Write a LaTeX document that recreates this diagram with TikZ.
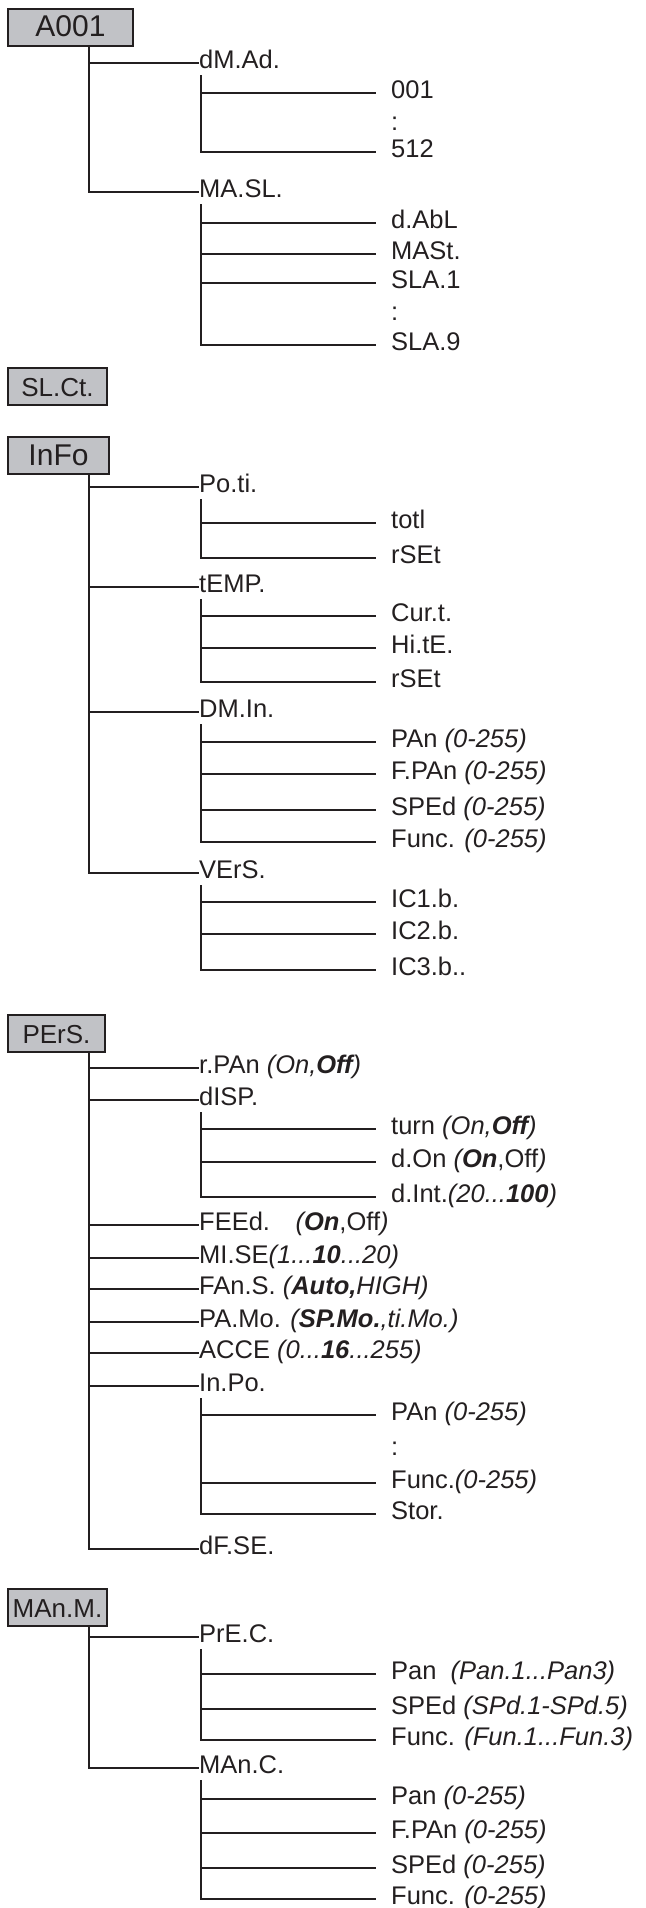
\documentclass[tikz,border=0pt]{standalone}
\usepackage{fontspec}
\setmainfont{Liberation Sans}
\definecolor{ink}{RGB}{35,31,32}
\definecolor{menugray}{RGB}{193,194,198}
\newcommand{\boxfont}{\fontsize{26}{30}\selectfont}
\newcommand{\bigboxfont}{\fontsize{30}{34}\selectfont}
\newcommand{\itemfont}{\fontsize{25.5}{30}\selectfont}

\begin{document}
\begin{tikzpicture}[x=1pt, y=-1pt,
    menubox/.style={draw=ink, fill=menugray, line width=2pt, anchor=north west,
        minimum height=37pt, inner sep=0pt, text height=19pt, text depth=0pt,
        font=\boxfont, text=ink},
    sublabel/.style={anchor=west, inner xsep=0pt, inner ysep=6.5pt,
        text height=11pt, text depth=0pt, font=\itemfont, text=ink},
    leaflabel/.style={sublabel},
    menuline/.style={draw=ink, line width=2pt}]

        % Define the columns of the menu tree
        \def\boxx{7}     % left edge of the menu boxes
        \def\trunk{82}   % trunk offset from the box edge
        \def\subx{199}   % first level labels
        \def\leafx{391}  % second level labels
        \def\gap{15}     % space between a leaf line and its label

        \useasboundingbox (0,0) rectangle (645,1908);

        % A001
        \node[menubox, minimum width=125pt, font=\bigboxfont] (a001) at (\boxx,8) {A001};
        \node[sublabel] (dmad) at (\subx,63) {dM.Ad.};
        \node[leaflabel] (dmad1) at (\leafx,93) {001};
        \node[leaflabel] (dmad2) at (\leafx,125) {:};
        \node[leaflabel] (dmad3) at (\leafx,152) {512};
        \node[sublabel] (masl) at (\subx,192) {MA.SL.};
        \node[leaflabel] (masl1) at (\leafx,223) {d.AbL};
        \node[leaflabel] (masl2) at (\leafx,254) {MASt.};
        \node[leaflabel] (masl3) at (\leafx,283) {SLA.1};
        \node[leaflabel] (masl4) at (\leafx,315) {:};
        \node[leaflabel] (masl5) at (\leafx,345) {SLA.9};

        \foreach \c in {dmad,masl}
            \draw[menuline] ([xshift=\trunk pt]a001.south west) |- (\c.west);
        \foreach \c in {dmad1,dmad3}
            \draw[menuline, shorten >=\gap pt] ([xshift=2pt]dmad.south west) |- (\c.west);
        \foreach \c in {masl1,masl2,masl3,masl5}
            \draw[menuline, shorten >=\gap pt] ([xshift=2pt]masl.south west) |- (\c.west);

        % SL.Ct.
        \node[menubox, minimum width=99pt] (slct) at (\boxx,367) {SL.Ct.};

        % InFo
        \node[menubox, minimum width=101pt, font=\bigboxfont] (info) at (\boxx,436) {InFo};
        \node[sublabel] (poti) at (\subx,487) {Po.ti.};
        \node[leaflabel] (poti1) at (\leafx,523) {totl};
        \node[leaflabel] (poti2) at (\leafx,558) {rSEt};
        \node[sublabel] (temp) at (\subx,587) {tEMP.};
        \node[leaflabel] (temp1) at (\leafx,616) {Cur.t.};
        \node[leaflabel] (temp2) at (\leafx,648) {Hi.tE.};
        \node[leaflabel] (temp3) at (\leafx,682) {rSEt};
        \node[sublabel] (dmin) at (\subx,712) {DM.In.};
        \node[leaflabel] (dmin1) at (\leafx,742) {PAn \textit{(0-255)}};
        \node[leaflabel] (dmin2) at (\leafx,774) {F.PAn \textit{(0-255)}};
        \node[leaflabel] (dmin3) at (\leafx,810) {SPEd \textit{(0-255)}};
        \node[leaflabel] (dmin4) at (\leafx,842) {Func. \textit{(0-255)}};
        \node[sublabel] (vers) at (\subx,873) {VErS.};
        \node[leaflabel] (vers1) at (\leafx,902) {IC1.b.};
        \node[leaflabel] (vers2) at (\leafx,934) {IC2.b.};
        \node[leaflabel] (vers3) at (\leafx,970) {IC3.b..};

        \foreach \c in {poti,temp,dmin,vers}
            \draw[menuline] ([xshift=\trunk pt]info.south west) |- (\c.west);
        \foreach \c in {poti1,poti2}
            \draw[menuline, shorten >=\gap pt] ([xshift=2pt]poti.south west) |- (\c.west);
        \foreach \c in {temp1,temp2,temp3}
            \draw[menuline, shorten >=\gap pt] ([xshift=2pt]temp.south west) |- (\c.west);
        \foreach \c in {dmin1,dmin2,dmin3,dmin4}
            \draw[menuline, shorten >=\gap pt] ([xshift=2pt]dmin.south west) |- (\c.west);
        \foreach \c in {vers1,vers2,vers3}
            \draw[menuline, shorten >=\gap pt] ([xshift=2pt]vers.south west) |- (\c.west);

        % PErS.
        \node[menubox, minimum width=97pt] (pers) at (\boxx,1014) {PErS.};
        \node[sublabel] (rpan) at (\subx,1068) {r.PAn \textit{(On,\textbf{Off})}};
        \node[sublabel] (disp) at (\subx,1100) {dISP.};
        \node[leaflabel] (disp1) at (\leafx,1129) {turn \textit{(On,\textbf{Off})}};
        \node[leaflabel] (disp2) at (\leafx,1162) {d.On \textit{(\textbf{On}},Off\textit{)}};
        \node[leaflabel] (disp3) at (\leafx,1197) {d.Int.\textit{(20...\textbf{100})}};
        \node[sublabel] (feed) at (\subx,1225) {FEEd.\quad\textit{(\textbf{On}},Off\textit{)}};
        \node[sublabel] (mise) at (\subx,1258) {MI.SE\textit{(1...\textbf{10}...20)}};
        \node[sublabel] (fans) at (\subx,1289) {FAn.S. \textit{(\textbf{Auto,}HIGH)}};
        \node[sublabel] (pamo) at (\subx,1322) {PA.Mo. \textit{(\textbf{SP.Mo.},ti.Mo.)}};
        \node[sublabel] (acce) at (\subx,1353) {ACCE \textit{(0...\textbf{16}...255)}};
        \node[sublabel] (inpo) at (\subx,1386) {In.Po.};
        \node[leaflabel] (inpo1) at (\leafx,1415) {PAn \textit{(0-255)}};
        \node[leaflabel] (inpo2) at (\leafx,1450) {:};
        \node[leaflabel] (inpo3) at (\leafx,1483) {Func.\textit{(0-255)}};
        \node[leaflabel] (inpo4) at (\leafx,1514) {Stor.};
        \node[sublabel] (dfse) at (\subx,1549) {dF.SE.};

        \foreach \c in {rpan,disp,feed,mise,fans,pamo,acce,inpo,dfse}
            \draw[menuline] ([xshift=\trunk pt]pers.south west) |- (\c.west);
        \foreach \c in {disp1,disp2,disp3}
            \draw[menuline, shorten >=\gap pt] ([xshift=2pt]disp.south west) |- (\c.west);
        \foreach \c in {inpo1,inpo3,inpo4}
            \draw[menuline, shorten >=\gap pt] ([xshift=2pt]inpo.south west) |- (\c.west);

        % MAn.M.
        \node[menubox, minimum width=99pt] (manm) at (\boxx,1588) {MAn.M.};
        \node[sublabel] (prec) at (\subx,1637) {PrE.C.};
        \node[leaflabel] (prec1) at (\leafx,1674) {Pan\ \ \textit{(Pan.1...Pan3)}};
        \node[leaflabel] (prec2) at (\leafx,1709) {SPEd \textit{(SPd.1-SPd.5)}};
        \node[leaflabel] (prec3) at (\leafx,1740) {Func. \textit{(Fun.1...Fun.3)}};
        \node[sublabel] (manc) at (\subx,1768) {MAn.C.};
        \node[leaflabel] (manc1) at (\leafx,1799) {Pan \textit{(0-255)}};
        \node[leaflabel] (manc2) at (\leafx,1833) {F.PAn \textit{(0-255)}};
        \node[leaflabel] (manc3) at (\leafx,1868) {SPEd \textit{(0-255)}};
        \node[leaflabel] (manc4) at (\leafx,1899) {Func. \textit{(0-255)}};

        \foreach \c in {prec,manc}
            \draw[menuline] ([xshift=\trunk pt]manm.south west) |- (\c.west);
        \foreach \c in {prec1,prec2,prec3}
            \draw[menuline, shorten >=\gap pt] ([xshift=2pt]prec.south west) |- (\c.west);
        \foreach \c in {manc1,manc2,manc3,manc4}
            \draw[menuline, shorten >=\gap pt] ([xshift=2pt]manc.south west) |- (\c.west);
    \end{tikzpicture}
\end{document}
